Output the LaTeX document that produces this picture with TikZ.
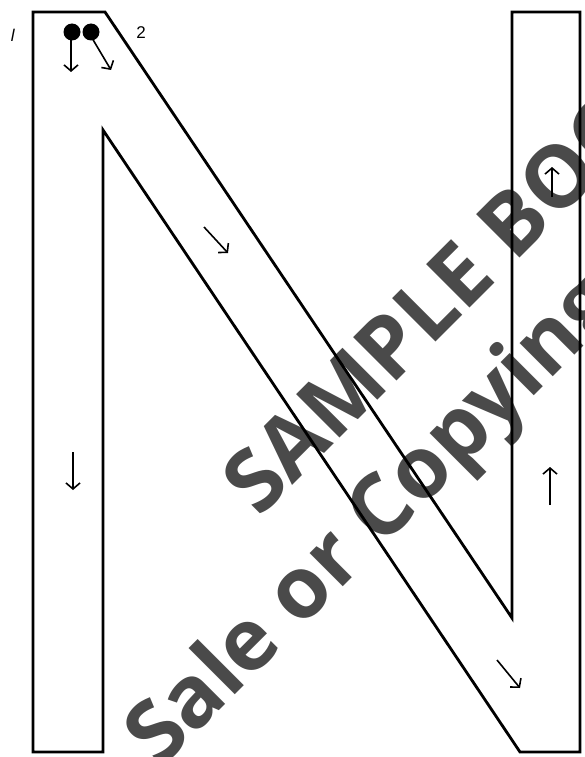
\documentclass[tikz,border=0pt]{standalone}
\usepackage{fontspec}
\setmainfont{Liberation Sans}
\newfontfamily\wmfont{Open Sans}
\usetikzlibrary{arrows.meta}
\definecolor{wm}{HTML}{4A4A4A}
\begin{document}
\begin{tikzpicture}[x=1pt,y=-1pt,
  outline/.style={draw=black,line width=2.8pt,line join=miter},
  dir/.style={line width=1.6pt,-{Straight Barb[length=6pt,width=14pt,line width=1.6pt]}},
  lab/.style={font=\fontsize{17}{17}\selectfont,inner sep=0pt},
  wmtext/.style={font=\wmfont\bfseries\fontsize{86}{86}\selectfont,text=wm,rotate=45,anchor=base west,inner sep=0pt}]
\useasboundingbox (0,0) rectangle (584,757);
\begin{scope}
\clip (0,0) rectangle (584,757);
% watermark
\node[wmtext] (wm1) at (259,519) {SAMPLE BOOK};
\node[wmtext] (wm2) at (160,770) {Sale or Copying};
\end{scope}
% letter N outline
\draw[outline] (33,752) -- (33,12) -- (105,12) -- (512,618) -- (512,12) -- (580,12)
  -- (580,752) -- (520,752) -- (103,130) -- (103,752) -- cycle;
% start dots
\fill (72,32) circle (8.5);
\fill (91,32) circle (8.5);
\coordinate (a1s) at (71,38); \coordinate (a1e) at (71,72);
\coordinate (a2s) at (92,38); \coordinate (a2e) at (111,70);
\draw[dir] (a1s) -- (a1e);
\draw[dir] (a2s) -- (a2e);
% direction arrows
\coordinate (b1s) at (73,452); \coordinate (b1e) at (73,490);
\draw[dir] (b1s) -- (b1e);
\coordinate (b2s) at (204,227); \coordinate (b2e) at (228,253);
\draw[dir] (b2s) -- (b2e);
\coordinate (b3s) at (497,660); \coordinate (b3e) at (520,688);
\draw[dir] (b3s) -- (b3e);
\coordinate (b4s) at (550,505); \coordinate (b4e) at (550,467);
\draw[dir] (b4s) -- (b4e);
\coordinate (b5s) at (552,197); \coordinate (b5e) at (552,167);
\draw[dir] (b5s) -- (b5e);
% labels
\node[lab] (l1) at (13,35) {\textit{l}};
\node[lab] (l2) at (141,33) {2};
\end{tikzpicture}
\end{document}
